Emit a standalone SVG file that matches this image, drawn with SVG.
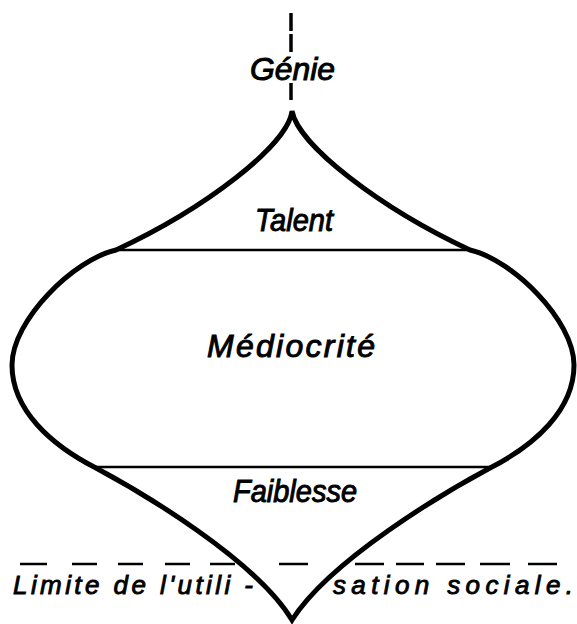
<svg xmlns="http://www.w3.org/2000/svg" width="577" height="624" viewBox="0 0 577 624">
<style>
.lbl{font-family:"Liberation Sans",Arial,sans-serif;font-style:italic;fill:#000;stroke:#000}
.big{font-size:32px;stroke-width:1}
.small{font-size:26px;stroke-width:0.9}
.outline{fill:none;stroke:#000;stroke-width:5;stroke-linejoin:miter}
.div{stroke:#000;stroke-width:2.5;fill:none}
.dash{stroke:#000;stroke-width:2.5;fill:none}
.vdash{stroke:#000;stroke-width:3.5;fill:none}
</style>
<rect width="577" height="624" fill="#fff"/>
<g id="shape">
<path class="outline" d="M292,111 C298,145 380,208 470,250 C512,259.5 574,320 574,365 C574,410 535,445 490,468 C445,492 330,560 292,620 C256,560 141,492 96,468 C51,445 12,410 12,365 C12,320 74,259.5 116,250 C206,208 288,145 292,111 Z"/>
</g>
<g id="connectors">
<line class="div" x1="116" y1="250" x2="470" y2="250"/>
<line class="div" x1="96" y1="467" x2="490" y2="467"/>
<g id="genie-axis">
<line class="vdash" x1="291" y1="13" x2="291" y2="31"/>
<line class="vdash" x1="291" y1="34" x2="291" y2="52"/>
<line class="vdash" x1="291" y1="83" x2="291" y2="100"/>
</g>
<g id="limit-line">
<line class="dash" x1="20" y1="564" x2="47" y2="564"/>
<line class="dash" x1="72" y1="564" x2="97" y2="564"/>
<line class="dash" x1="118" y1="564" x2="143" y2="564"/>
<line class="dash" x1="165" y1="564" x2="190" y2="564"/>
<line class="dash" x1="210" y1="564" x2="235" y2="564"/>
<line class="dash" x1="279" y1="564" x2="308" y2="564"/>
<line class="dash" x1="355" y1="564" x2="384" y2="564"/>
<line class="dash" x1="396" y1="564" x2="424" y2="564"/>
<line class="dash" x1="436" y1="564" x2="465" y2="564"/>
<line class="dash" x1="480" y1="564" x2="510" y2="564"/>
<line class="dash" x1="528" y1="564" x2="557" y2="564"/>
</g>
</g>
<g id="genie"><text class="lbl big" x="250" y="80" textLength="85" lengthAdjust="spacingAndGlyphs">Génie</text></g>
<g id="talent"><text class="lbl big" x="255" y="231" textLength="78" lengthAdjust="spacingAndGlyphs">Talent</text></g>
<g id="mediocrite"><text class="lbl big" x="207" y="357" textLength="168" lengthAdjust="spacing">Médiocrité</text></g>
<g id="faiblesse"><text class="lbl big" x="233" y="502" textLength="124" lengthAdjust="spacingAndGlyphs">Faiblesse</text></g>
<g id="limite">
<text class="lbl small" x="13" y="594" textLength="240" lengthAdjust="spacing">Limite de l'utili -</text>
<text class="lbl small" x="333" y="594" textLength="240" lengthAdjust="spacing">sation  sociale.</text>
</g>
</svg>
